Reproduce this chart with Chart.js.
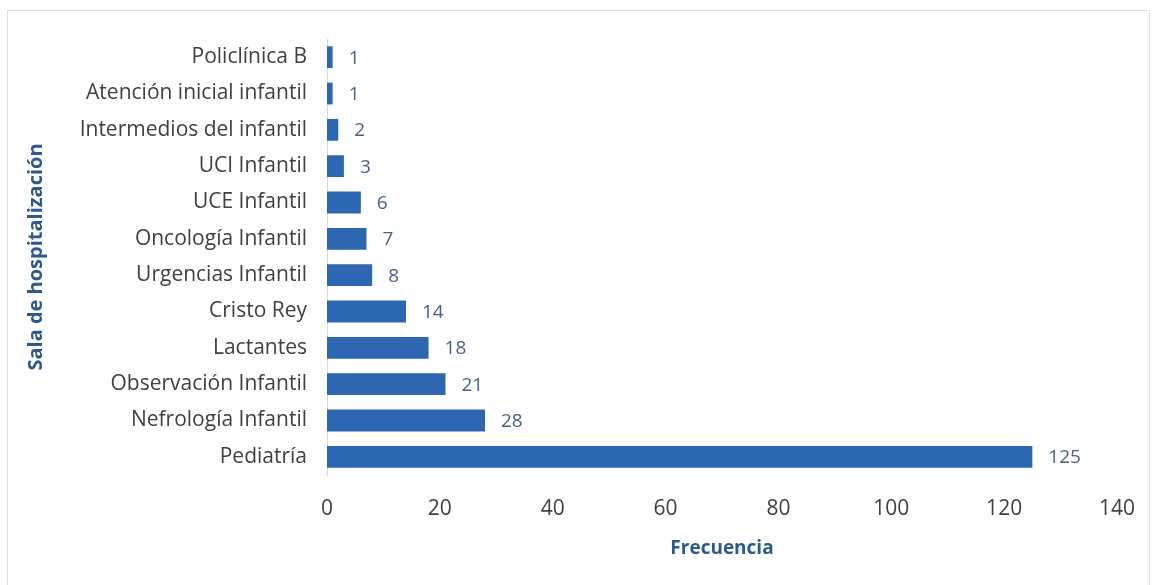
<!DOCTYPE html>
<html>
<head>
<meta charset="utf-8">
<script src="https://cdn.jsdelivr.net/npm/chart.js@4"></script>
<style>
  html, body { margin: 0; padding: 0; background: #ffffff; }
  #wrap { position: relative; width: 1156px; height: 585px; overflow: hidden; }
  #frame { position: absolute; left: 7px; top: 10px; width: 1143px; height: 600px; border: 1px solid #d6dfeb; box-sizing: border-box; pointer-events: none; }
  canvas { position: absolute; left: 0; top: 0; }
</style>
</head>
<body>
<div id="wrap">
  <canvas id="c" width="1156" height="585"></canvas>
  <div id="frame"></div>
</div>
<script>
const categories = [
  "Policlínica B",
  "Atención inicial infantil",
  "Intermedios del infantil",
  "UCI Infantil",
  "UCE Infantil",
  "Oncología Infantil",
  "Urgencias Infantil",
  "Cristo Rey",
  "Lactantes",
  "Observación Infantil",
  "Nefrología Infantil",
  "Pediatría"
];
const frecuencia = [1, 1, 2, 3, 6, 7, 8, 14, 18, 21, 28, 125];
const xTicks = [0, 20, 40, 60, 80, 100, 120, 140];

const FONT = "'Open Sans', Lato, 'Liberation Sans', sans-serif";

const valueLabels = {
  id: 'valueLabels',
  afterDatasetsDraw(chart) {
    const ctx = chart.ctx;
    const meta = chart.getDatasetMeta(0);
    ctx.save();
    ctx.font = "19px " + FONT;
    ctx.fillStyle = "#46608a";
    ctx.textBaseline = "middle";
    ctx.textAlign = "left";
    meta.data.forEach((bar, i) => {
      ctx.fillText(String(frecuencia[i]), bar.x + 16, bar.y + 1);
    });
    ctx.restore();
  }
};

function barFill(context) {
  const chart = context.chart;
  const el = context.element;
  if (!el || el.height === undefined) return "#2e67b1";
  const top = el.y - el.height / 2, bottom = el.y + el.height / 2;
  const g = chart.ctx.createLinearGradient(0, top, 0, bottom);
  g.addColorStop(0, "#4a80c9");
  g.addColorStop(0.45, "#2f68b3");
  g.addColorStop(1, "#24599c");
  return g;
}

new Chart(document.getElementById('c'), {
  type: 'bar',
  data: {
    labels: categories,
    datasets: [{
      data: frecuencia,
      backgroundColor: barFill,
      borderWidth: 0,
      barPercentage: 0.6,
      categoryPercentage: 1.0
    }]
  },
  options: {
    indexAxis: 'y',
    responsive: false,
    animation: false,
    devicePixelRatio: 1,
    layout: { padding: { left: 20, right: 16, top: 39, bottom: 0 } },
    plugins: { legend: { display: false }, tooltip: { enabled: false } },
    scales: {
      x: {
        min: 0, max: 140,
        afterBuildTicks(scale) { scale.ticks = xTicks.map(v => ({ value: v })); },
        afterFit(scale) { scale.height = 110; },
        grid: { display: false, drawTicks: false },
        border: { display: false },
        ticks: { color: "#404040", font: { family: FONT, size: 21 }, padding: 21, maxRotation: 0 },
        title: { display: true, text: "Frecuencia", color: "#2d5a8a", font: { family: FONT, size: 19, weight: 'bold' }, padding: { top: 0, bottom: 25 } }
      },
      y: {
        afterFit(scale) { scale.width = 307; },
        grid: { display: false, drawTicks: false },
        border: { display: true, color: "#d9d9d9", width: 1 },
        ticks: { color: "#404040", font: { family: FONT, size: 21 }, padding: 20, autoSkip: false },
        title: { display: true, text: "Sala de hospitalización", color: "#2d5a8a", font: { family: FONT, size: 20, weight: 'bold' }, padding: { top: 4, bottom: 0 } }
      }
    }
  },
  plugins: [valueLabels]
});
</script>
</body>
</html>
